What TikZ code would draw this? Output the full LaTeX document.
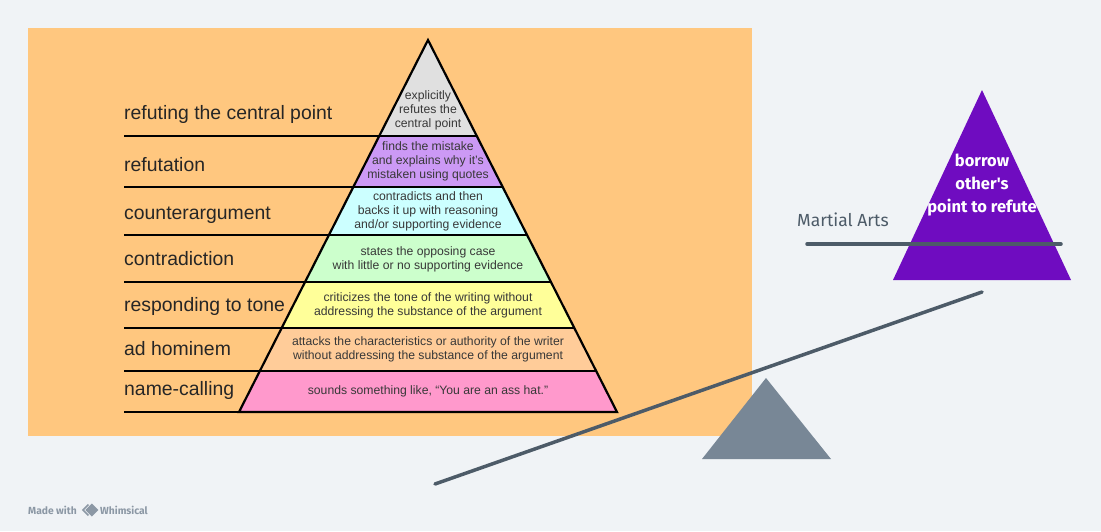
\documentclass[tikz,border=0pt]{standalone}
\usepackage{fontspec}
\setmainfont{Liberation Sans}
\newfontfamily\whimsy{Fira Sans}
\usetikzlibrary{positioning, calc}

\definecolor{canvas}{HTML}{F0F3F6}
\definecolor{sheet}{HTML}{FFC77F}
\definecolor{tiergrey}{HTML}{E0E0E0}
\definecolor{tierlilac}{HTML}{CC99F5}
\definecolor{tiercyan}{HTML}{CCFFFF}
\definecolor{tiergreen}{HTML}{CCFFCC}
\definecolor{tieryellow}{HTML}{FFFF99}
\definecolor{tierpeach}{HTML}{FFCC99}
\definecolor{tierpink}{HTML}{FF99CC}
\definecolor{slate}{HTML}{4D5B68}
\definecolor{fulcrum}{HTML}{788796}
\definecolor{violet}{HTML}{6F0CC0}
\definecolor{madewith}{HTML}{8C98A5}

\begin{document}
\begin{tikzpicture}[x=1pt, y=-1pt,
  tag/.style={anchor=base west, inner sep=0pt, font=\fontsize{19.4}{22}\selectfont, text=black!85},
  tiertext/.style={align=center, font=\fontsize{12.2}{13.9}\selectfont, text=black!78},
  rule/.style={line width=2.2pt},
  beam/.style={slate, line width=3.5pt, line cap=round}]

  \useasboundingbox[fill=canvas] (0,0) rectangle (1101,531);
  \fill[sheet] (28,28) rectangle (752,436);

  % pyramid
  \coordinate (apex) at (428,40);
  \coordinate (bl) at (239,412);
  \coordinate (br) at (617,412);
  \begin{scope}
    \clip (apex) -- (bl) -- (br) -- cycle;
    \foreach \ya/\yb/\c in {40/136/tiergrey, 136/187/tierlilac, 187/235/tiercyan,
        235/282/tiergreen, 282/328/tieryellow, 328/371/tierpeach, 371/412/tierpink}
      \fill[\c] (200,\ya) rectangle (660,\yb);
  \end{scope}
  \foreach \y in {136,187,235,282,328,371,412}{
    \pgfmathsetmacro\xr{428+0.5081*(\y-40)}
    \draw[rule] (124,\y) -- (\xr,\y);
  }
  \draw[rule, line join=miter] (apex) -- (bl) -- (br) -- cycle;

  \node[tag] (refuting) at (124,119) {refuting the central point};
  \node[tag] (refutation) at (124,171) {refutation};
  \node[tag] (counter) at (124,219) {counterargument};
  \node[tag] (contra) at (124,265) {contradiction};
  \node[tag] (tone) at (124,311) {responding to tone};
  \node[tag] (hominem) at (124,355) {ad hominem};
  \node[tag] (naming) at (124,395) {name-calling};

  \node[tiertext] (t1) at (428,110) {explicitly\\refutes the\\central point};
  \node[tiertext] (t2) at (428,161.5) {finds the mistake\\and explains why it's\\mistaken using quotes};
  \node[tiertext] (t3) at (428,211) {contradicts and then\\backs it up with reasoning\\and/or supporting evidence};
  \node[tiertext] (t4) at (428,259) {states the opposing case\\with little or no supporting evidence};
  \node[tiertext] (t5) at (428,305.5) {criticizes the tone of the writing without\\addressing the substance of the argument};
  \node[tiertext] (t6) at (428,349.5) {attacks the characteristics or authority of the writer\\without addressing the substance of the argument};
  \node[tiertext] (t7) at (428,391) {sounds something like, ``You are an ass hat.''};

  % seesaw
  \fill[fulcrum] (766,378) -- (702,459) -- (831,459) -- cycle;
  \coordinate (beamL) at (435,484);
  \coordinate (beamR) at (982,292);
  \draw[beam] (beamL) -- (beamR);

  \fill[violet] (982,90) -- (893,280) -- (1071,280) -- cycle;
  \node[text=white, align=center, font=\whimsy\bfseries\fontsize{16.5}{23}\selectfont] (borrow) at (982,185) {borrow\\other's\\point to refute};
  \node[anchor=base west, inner sep=0pt, text=slate, font=\whimsy\fontsize{17.5}{20}\selectfont] (martial) at (797,226) {Martial Arts};
  \coordinate (armL) at (807,244);
  \coordinate (armR) at (1061,244);
  \draw[beam] (armL) -- (armR);

  % footer
  \node[anchor=west, inner sep=0pt, text=madewith, font=\whimsy\bfseries\fontsize{10.3}{12}\selectfont] (made) at (28,510) {Made with};
  \coordinate[right=15pt of made.east] (logo);
  \fill[madewith] ($(logo)+(0,-6.5)$) -- ($(logo)+(6.5,0)$) -- ($(logo)+(0,6.5)$) -- ($(logo)+(-6.5,0)$) -- cycle;
  \draw[madewith, line width=1.6pt] ($(logo)+(-3.5,-5.5)$) -- ($(logo)+(-9,0)$) -- ($(logo)+(-3.5,5.5)$);
  \node[right=8pt of logo, anchor=west, inner sep=0pt, text=madewith, font=\whimsy\bfseries\fontsize{10.3}{12}\selectfont] (whim) {Whimsical};
\end{tikzpicture}
\end{document}
